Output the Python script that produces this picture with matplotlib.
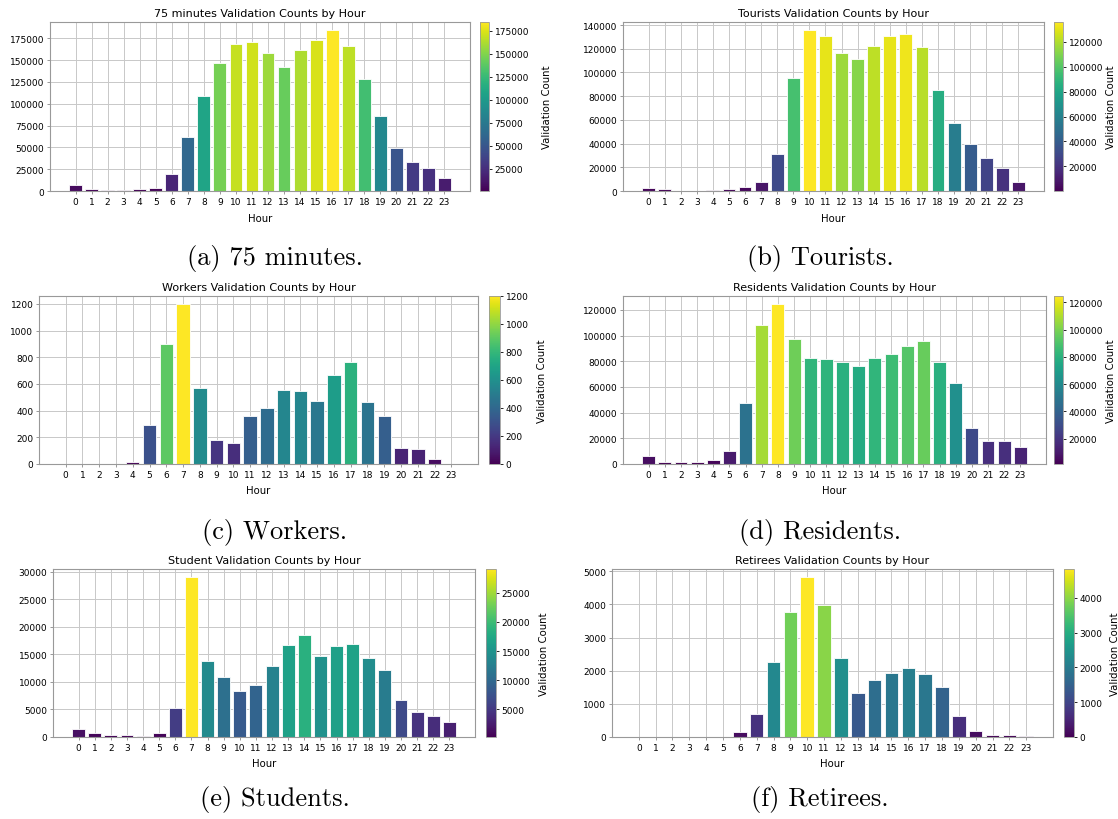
import numpy as np
import matplotlib
matplotlib.use("Agg")
import matplotlib.pyplot as plt
from matplotlib.ticker import MultipleLocator
from matplotlib.colors import Normalize
from matplotlib.cm import ScalarMappable

hours = list(range(24))

min75 = [6500, 2000, 1000, 1000, 2000, 3800, 19800, 62000, 108400, 146400, 168100, 171200,
         157900, 141900, 161700, 173100, 184500, 166200, 128600, 86300, 49400, 33100, 26200, 15200]
tourists = [2800, 1400, 300, 300, 800, 2000, 3400, 7900, 30900, 95600, 135800, 131000,
            116100, 111000, 122300, 131000, 132100, 121200, 84900, 57400, 39400, 27600, 19400, 7900]
workers = [0, 0, 0, 0, 13, 296, 899, 1200, 572, 183, 156, 359,
           419, 552, 550, 475, 665, 768, 462, 359, 118, 113, 40, 2]
residents = [5900, 1300, 1300, 1300, 2800, 10300, 47800, 108100, 124600, 97200, 82200, 81500,
             79400, 76500, 82200, 85600, 91600, 96000, 79400, 62800, 28400, 17800, 17800, 13200]
students = [1440, 720, 360, 360, 240, 660, 5350, 29090, 13880, 10820, 8350, 9440,
            12920, 16710, 18570, 14720, 16470, 16830, 14300, 12200, 6670, 4510, 3850, 2760]
retirees = [0, 0, 0, 0, 0, 0, 160, 680, 2260, 3780, 4830, 3980,
            2380, 1330, 1730, 1920, 2070, 1910, 1510, 630, 170, 50, 50, 40]

series = [min75, tourists, workers, residents, students, retirees]
titles = ["75 minutes Validation Counts by Hour",
          "Tourists Validation Counts by Hour",
          "Workers Validation Counts by Hour",
          "Residents Validation Counts by Hour",
          "Student Validation Counts by Hour",
          "Retirees Validation Counts by Hour"]
captions = ["(a) 75 minutes.", "(b) Tourists.", "(c) Workers.",
            "(d) Residents.", "(e) Students.", "(f) Retirees."]
tick_steps = [25000, 20000, 200, 20000, 5000, 1000]

W, H = 1118, 820
# pixel layout: axes (left, right, top, bottom), colorbar (left, right), colorbar label x
layout = [
    ((50, 470, 23, 192), (480, 489), 542),
    ((623, 1044, 23, 192), (1054, 1063), 1106),
    ((39, 478, 297, 465), (489, 500), 537),
    ((623, 1046, 297, 465), (1054, 1063), 1106),
    ((53, 475, 570, 738), (486, 496), 539),
    ((612, 1053, 570, 738), (1064, 1074), 1110),
]
caption_pos = [(275, 258), (820, 258), (275, 533), (820, 533), (275, 800), (820, 800)]

fig = plt.figure(figsize=(W / 100, H / 100), dpi=100)


def rect(l, r, t, b):
    return [l / W, 1 - b / H, (r - l) / W, (b - t) / H]


for vals, title, cap, step, (ax_px, cb_px, lab_x), (cx, cy) in zip(
        series, titles, captions, tick_steps, layout, caption_pos):
    l, r, t, b = ax_px
    ax = fig.add_axes(rect(l, r, t, b))
    norm = Normalize(vmin=min(vals), vmax=max(vals))
    cmap = plt.get_cmap("viridis")
    ax.set_axisbelow(True)
    ax.grid(True, color="#c8c8c8", linewidth=0.7)
    ax.bar(hours, vals, width=0.8, color=cmap(norm(np.array(vals))),
           edgecolor="white", linewidth=0.6)
    ax.set_xticks(hours)
    ax.set_xticklabels([str(h) for h in hours])
    ax.yaxis.set_major_locator(MultipleLocator(step))
    ax.tick_params(labelsize=6.5, length=2, width=0.6, color="#888888", pad=2)
    for s in ax.spines.values():
        s.set_color("#999999")
        s.set_linewidth(0.8)
    ax.set_title(title, fontsize=8, pad=4)
    ax.set_xlabel("Hour", fontsize=7.3, labelpad=5)

    cax = fig.add_axes(rect(cb_px[0], cb_px[1], t, b))
    sm = ScalarMappable(norm=norm, cmap=cmap)
    cbar = fig.colorbar(sm, cax=cax)
    cbar.locator = MultipleLocator(step)
    cbar.update_ticks()
    cbar.ax.tick_params(labelsize=6.5, length=2, width=0.6, pad=2)
    cbar.outline.set_linewidth(0.6)
    cbar.outline.set_edgecolor("#999999")
    cbar.set_label("Validation Count", fontsize=7.3)
    cax.yaxis.set_label_coords((lab_x - cb_px[0]) / (cb_px[1] - cb_px[0]), 0.5)

    fig.text(cx / W, 1 - cy / H, cap, ha="center", va="center",
             fontfamily="cmr10", fontsize=19)

fig.savefig("out.png", dpi=100)
